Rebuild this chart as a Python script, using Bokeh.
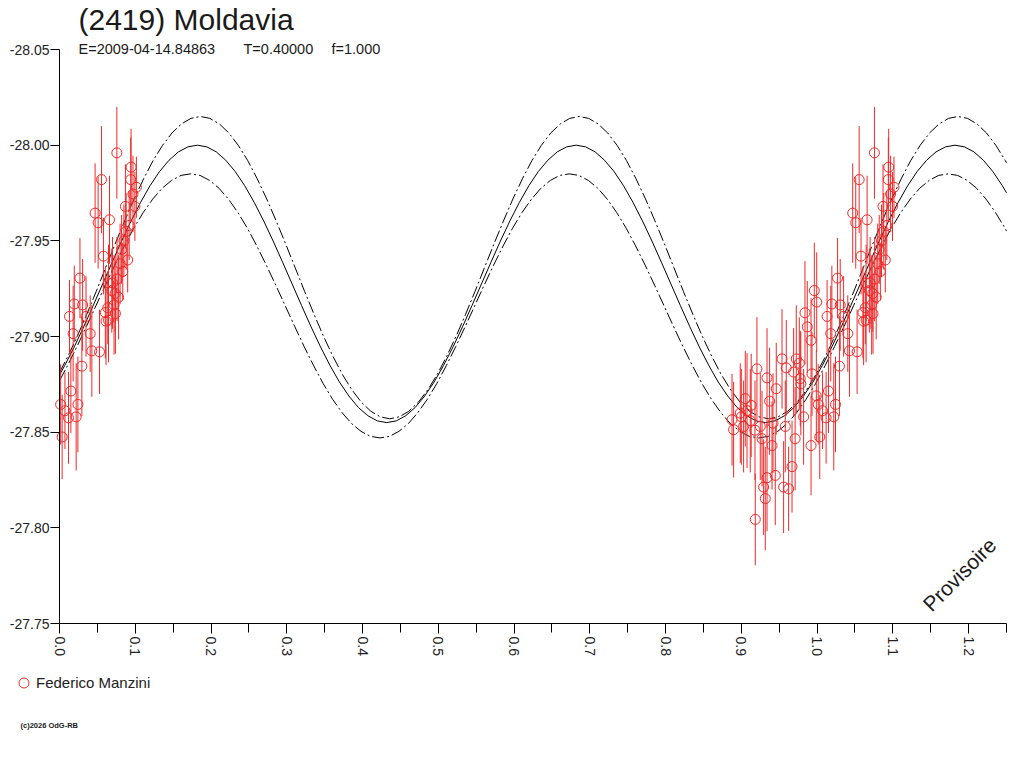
import math
from bokeh.plotting import figure
from bokeh.models import Range1d, FixedTicker, PrintfTickFormatter, Label, Legend, LegendItem
from bokeh.embed import file_html
from bokeh.resources import INLINE

FONT = "Liberation Sans"
RED = "#ee2a2a"

# ---------------- data ----------------
title_text = "(2419) Moldavia"
epoch_text = "E=2009-04-14.84863"
period_text = "T=0.40000"
f_text = "f=1.000"
observer = "Federico Manzini"
copyright_text = "(c)2026 OdG-RB"
stamp_text = "Provisoire"

x_ticks = [0.0, 0.1, 0.2, 0.3, 0.4, 0.5, 0.6, 0.7, 0.8, 0.9, 1.0, 1.1, 1.2]
x_minor = [0.05, 0.15, 0.25, 0.35, 0.45, 0.55, 0.65, 0.75, 0.85, 0.95, 1.05, 1.15, 1.25]
y_ticks = [-28.05, -28.00, -27.95, -27.90, -27.85, -27.80, -27.75]

# observations: phase, reduced magnitude, error
phase = [
    0.0757, 0.0555, 0.0945, 0.0940, 0.1015, 0.0970, 0.0995, 0.0870, 0.0470, 0.0510,
    0.0660, 0.0580, 0.0820, 0.0900, 0.0270, 0.0835, 0.0735, 0.0780, 0.0195, 0.0305,
    0.0132, 0.0350, 0.0180, 0.0605, 0.0720, 0.0647, 0.0405, 0.0427, 0.0528, 0.0295,
    0.0150, 0.0015, 0.0243, 0.0072, 0.0119, 0.0220, 0.0035, 0.0738, 0.0614, 0.0637,
    0.0850, 0.0800, 0.0700, 0.0880, 0.0920, 0.0760, 0.0647, 0.0690,
    0.9537, 0.9725, 0.9765, 0.9593, 0.9206, 0.9690, 0.9933, 0.9339, 0.9778, 0.9785,
    0.9461, 0.9052, 0.9373, 0.9990, 0.8986, 0.9075, 0.9118, 0.9822, 0.8877, 0.8898,
    0.9250, 0.9418, 0.9580, 0.9273, 0.9710, 0.9405, 0.9920, 0.9669, 0.9448, 0.9339,
    0.9294, 0.9558, 0.9624, 0.9316, 0.9184, 0.9963, 0.9995, 0.9840, 0.9920, 0.9870,
    0.9000, 0.9130, 0.9180, 0.9030,
]
mag = [
    -27.9960, -27.9820, -27.9885, -27.9820, -27.9780, -27.9745, -27.9680, -27.9680, -27.9645, -27.9595,
    -27.9610, -27.9420, -27.9455, -27.9400, -27.9305, -27.9340, -27.9225, -27.9205, -27.9170, -27.9165,
    -27.9105, -27.9105, -27.9015, -27.9125, -27.9165, -27.9085, -27.9015, -27.8925, -27.8920, -27.8845,
    -27.8715, -27.8645, -27.8645, -27.8612, -27.8575, -27.8580, -27.8475, -27.9120, -27.9080, -27.9150,
    -27.9500, -27.9380, -27.9280, -27.9550, -27.9580, -27.9300, -27.9280, -27.9240,
    -27.8883, -27.8883, -27.8860, -27.8836, -27.8831, -27.8814, -27.8805, -27.8784, -27.8780, -27.8753,
    -27.8727, -27.8675, -27.8662, -27.8690, -27.8600, -27.8613, -27.8560, -27.8580, -27.8565, -27.8513,
    -27.8530, -27.8547, -27.8530, -27.8466, -27.8466, -27.8430, -27.8430, -27.8320, -27.8274, -27.8262,
    -27.8213, -27.8213, -27.8204, -27.8153, -27.8044, -27.9240, -27.9180, -27.9124, -27.8980, -27.9050,
    -27.8580, -27.8640, -27.8510, -27.8530,
]
err = [
    0.024, 0.028, 0.020, 0.022, 0.016, 0.020, 0.018, 0.022, 0.026, 0.024,
    0.023, 0.020, 0.018, 0.017, 0.021, 0.015, 0.020, 0.022, 0.020, 0.024,
    0.019, 0.021, 0.025, 0.024, 0.026, 0.022, 0.020, 0.024, 0.022, 0.026,
    0.022, 0.021, 0.025, 0.020, 0.024, 0.028, 0.022, 0.021, 0.023, 0.019,
    0.019, 0.021, 0.024, 0.020, 0.018, 0.022, 0.020, 0.022,
    0.026, 0.028, 0.024, 0.025, 0.027, 0.023, 0.022, 0.026, 0.025, 0.027,
    0.024, 0.025, 0.028, 0.024, 0.026, 0.030, 0.027, 0.025, 0.024, 0.025,
    0.028, 0.026, 0.024, 0.025, 0.027, 0.023, 0.026, 0.024, 0.026, 0.028,
    0.025, 0.024, 0.022, 0.027, 0.024, 0.025, 0.026, 0.027, 0.022, 0.024,
    0.025, 0.027, 0.026, 0.024,
]

# fitted light curve (solid) and its uncertainty envelopes (dash-dot)
fit_x = [
    0.0000, 0.0070, 0.0195, 0.0320, 0.0445, 0.0570, 0.0695, 0.0820, 0.0945, 0.1070,
    0.1195, 0.1320, 0.1445, 0.1570, 0.1695, 0.1820, 0.1945, 0.2070, 0.2195, 0.2320,
    0.2445, 0.2570, 0.2695, 0.2820, 0.2945, 0.3070, 0.3195, 0.3320, 0.3445, 0.3570,
    0.3695, 0.3820, 0.3945, 0.4070, 0.4195, 0.4320, 0.4445, 0.4570, 0.4695, 0.4820,
    0.4945, 0.5070, 0.5195, 0.5320, 0.5445, 0.5570, 0.5695, 0.5820, 0.5945, 0.6070,
    0.6195, 0.6320, 0.6445, 0.6570, 0.6695, 0.6820, 0.6945, 0.7070, 0.7195, 0.7320,
    0.7445, 0.7570, 0.7695, 0.7820, 0.7945, 0.8070, 0.8195, 0.8320, 0.8445, 0.8570,
    0.8695, 0.8820, 0.8945, 0.9070, 0.9195, 0.9320, 0.9445, 0.9570, 0.9695, 0.9820,
    0.9945, 1.0070, 1.0195, 1.0320, 1.0445, 1.0570, 1.0695, 1.0820, 1.0945, 1.1070,
    1.1195, 1.1320, 1.1445, 1.1570, 1.1695, 1.1820, 1.1945, 1.2070, 1.2195, 1.2320,
    1.2445, 1.2500,
]
fit_y = [
    -27.8798, -27.8849, -27.8946, -27.9051, -27.9162, -27.9275, -27.9388, -27.9499, -27.9604, -27.9701,
    -27.9788, -27.9862, -27.9921, -27.9965, -27.9991, -28.0000, -27.9991, -27.9965, -27.9921, -27.9862,
    -27.9788, -27.9701, -27.9604, -27.9499, -27.9388, -27.9275, -27.9162, -27.9051, -27.8946, -27.8849,
    -27.8762, -27.8689, -27.8629, -27.8586, -27.8559, -27.8550, -27.8559, -27.8586, -27.8629, -27.8689,
    -27.8762, -27.8849, -27.8946, -27.9051, -27.9162, -27.9275, -27.9388, -27.9499, -27.9604, -27.9701,
    -27.9788, -27.9862, -27.9921, -27.9965, -27.9991, -28.0000, -27.9991, -27.9965, -27.9921, -27.9862,
    -27.9788, -27.9701, -27.9604, -27.9499, -27.9388, -27.9275, -27.9162, -27.9051, -27.8946, -27.8849,
    -27.8762, -27.8689, -27.8629, -27.8586, -27.8559, -27.8550, -27.8559, -27.8586, -27.8629, -27.8689,
    -27.8762, -27.8849, -27.8946, -27.9051, -27.9162, -27.9275, -27.9388, -27.9499, -27.9604, -27.9701,
    -27.9788, -27.9862, -27.9921, -27.9965, -27.9991, -28.0000, -27.9991, -27.9965, -27.9921, -27.9862,
    -27.9788, -27.9751,
]
upper_x = [
    0.0000, 0.0110, 0.0235, 0.0360, 0.0485, 0.0610, 0.0735, 0.0860, 0.0985, 0.1110,
    0.1235, 0.1360, 0.1485, 0.1610, 0.1735, 0.1860, 0.1985, 0.2110, 0.2235, 0.2360,
    0.2485, 0.2610, 0.2735, 0.2860, 0.2985, 0.3110, 0.3235, 0.3360, 0.3485, 0.3610,
    0.3735, 0.3860, 0.3985, 0.4110, 0.4235, 0.4360, 0.4485, 0.4610, 0.4735, 0.4860,
    0.4985, 0.5110, 0.5235, 0.5360, 0.5485, 0.5610, 0.5735, 0.5860, 0.5985, 0.6110,
    0.6235, 0.6360, 0.6485, 0.6610, 0.6735, 0.6860, 0.6985, 0.7110, 0.7235, 0.7360,
    0.7485, 0.7610, 0.7735, 0.7860, 0.7985, 0.8110, 0.8235, 0.8360, 0.8485, 0.8610,
    0.8735, 0.8860, 0.8985, 0.9110, 0.9235, 0.9360, 0.9485, 0.9610, 0.9735, 0.9860,
    0.9985, 1.0110, 1.0235, 1.0360, 1.0485, 1.0610, 1.0735, 1.0860, 1.0985, 1.1110,
    1.1235, 1.1360, 1.1485, 1.1610, 1.1735, 1.1860, 1.1985, 1.2110, 1.2235, 1.2360,
    1.2485, 1.2500,
]
upper_y = [
    -27.8812, -27.8896, -27.9001, -27.9116, -27.9236, -27.9360, -27.9484, -27.9604, -27.9719, -27.9824,
    -27.9919, -27.9999, -28.0064, -28.0111, -28.0140, -28.0150, -28.0140, -28.0111, -28.0064, -27.9999,
    -27.9919, -27.9824, -27.9719, -27.9604, -27.9484, -27.9360, -27.9236, -27.9116, -27.9001, -27.8896,
    -27.8801, -27.8721, -27.8656, -27.8609, -27.8580, -27.8570, -27.8580, -27.8609, -27.8656, -27.8721,
    -27.8801, -27.8896, -27.9001, -27.9116, -27.9236, -27.9360, -27.9484, -27.9604, -27.9719, -27.9824,
    -27.9919, -27.9999, -28.0064, -28.0111, -28.0140, -28.0150, -28.0140, -28.0111, -28.0064, -27.9999,
    -27.9919, -27.9824, -27.9719, -27.9604, -27.9484, -27.9360, -27.9236, -27.9116, -27.9001, -27.8896,
    -27.8801, -27.8721, -27.8656, -27.8609, -27.8580, -27.8570, -27.8580, -27.8609, -27.8656, -27.8721,
    -27.8801, -27.8896, -27.9001, -27.9116, -27.9236, -27.9360, -27.9484, -27.9604, -27.9719, -27.9824,
    -27.9919, -27.9999, -28.0064, -28.0111, -28.0140, -28.0150, -28.0140, -28.0111, -28.0064, -27.9999,
    -27.9919, -27.9908,
]
lower_x = [
    0.0000, 0.0105, 0.0230, 0.0355, 0.0480, 0.0605, 0.0730, 0.0855, 0.0980,
    0.1105, 0.1230, 0.1355, 0.1480, 0.1605, 0.1730, 0.1855, 0.1980, 0.2105, 0.2230,
    0.2355, 0.2480, 0.2605, 0.2730, 0.2855, 0.2980, 0.3105, 0.3230, 0.3355, 0.3480,
    0.3605, 0.3730, 0.3855, 0.3980, 0.4105, 0.4230, 0.4355, 0.4480, 0.4605, 0.4730,
    0.4855, 0.4980, 0.5105, 0.5230, 0.5355, 0.5480, 0.5605, 0.5730, 0.5855, 0.5980,
    0.6105, 0.6230, 0.6355, 0.6480, 0.6605, 0.6730, 0.6855, 0.6980, 0.7105, 0.7230,
    0.7355, 0.7480, 0.7605, 0.7730, 0.7855, 0.7980, 0.8105, 0.8230, 0.8355, 0.8480,
    0.8605, 0.8730, 0.8855, 0.8980, 0.9105, 0.9230, 0.9355, 0.9480, 0.9605, 0.9730,
    0.9855, 0.9980, 1.0105, 1.0230, 1.0355, 1.0480, 1.0605, 1.0730, 1.0855, 1.0980,
    1.1105, 1.1230, 1.1355, 1.1480, 1.1605, 1.1730, 1.1855, 1.1980, 1.2105, 1.2230,
    1.2355, 1.2480, 1.2500,
]
lower_y = [
    -27.8769, -27.8847, -27.8947, -27.9052, -27.9160, -27.9268, -27.9373, -27.9473, -27.9566,
    -27.9648, -27.9718, -27.9775, -27.9816, -27.9842, -27.9850, -27.9842, -27.9816, -27.9775, -27.9718,
    -27.9648, -27.9566, -27.9473, -27.9373, -27.9268, -27.9160, -27.9052, -27.8947, -27.8847, -27.8754,
    -27.8672, -27.8602, -27.8545, -27.8504, -27.8478, -27.8470, -27.8478, -27.8504, -27.8545, -27.8602,
    -27.8672, -27.8754, -27.8847, -27.8947, -27.9052, -27.9160, -27.9268, -27.9373, -27.9473, -27.9566,
    -27.9648, -27.9718, -27.9775, -27.9816, -27.9842, -27.9850, -27.9842, -27.9816, -27.9775, -27.9718,
    -27.9648, -27.9566, -27.9473, -27.9373, -27.9268, -27.9160, -27.9052, -27.8947, -27.8847, -27.8754,
    -27.8672, -27.8602, -27.8545, -27.8504, -27.8478, -27.8470, -27.8478, -27.8504, -27.8545, -27.8602,
    -27.8672, -27.8754, -27.8847, -27.8947, -27.9052, -27.9160, -27.9268, -27.9373, -27.9473, -27.9566,
    -27.9648, -27.9718, -27.9775, -27.9816, -27.9842, -27.9850, -27.9842, -27.9816, -27.9775, -27.9718,
    -27.9648, -27.9566, -27.9551,
]

X_MIN, X_MAX = 0.0, 1.25
Y_FAINT, Y_BRIGHT = -27.75, -28.05

# each observation is shown at its phase and, where it fits, one cycle later
px, pm, pe = [], [], []
for ph, m, e in zip(phase, mag, err):
    for shift in (0.0, 1.0):
        if ph + shift <= X_MAX:
            px.append(ph + shift)
            pm.append(m)
            pe.append(e)

# ---------------- figure ----------------
W, H = 1008, 752
AX_LEFT, AX_RIGHT, AX_TOP, AX_BOTTOM = 59, 1006, 49, 623   # where the axes sit on the canvas
xs = (X_MAX - X_MIN) / (AX_RIGHT - AX_LEFT)
ys = (Y_FAINT - Y_BRIGHT) / (AX_BOTTOM - AX_TOP)
x_range = Range1d(X_MIN - AX_LEFT * xs, X_MAX + (W - AX_RIGHT) * xs)
y_range = Range1d(Y_FAINT + (H - AX_BOTTOM) * ys, Y_BRIGHT - AX_TOP * ys)

p = figure(width=W, height=H, output_backend="svg", toolbar_location=None,
           x_range=x_range, y_range=y_range,
           min_border_left=0, min_border_right=0, min_border_top=0, min_border_bottom=0)
p.min_border = 0
p.outline_line_color = None
p.grid.visible = False
p.background_fill_color = "white"
p.border_fill_color = "white"

xa = p.xaxis[0]
xa.fixed_location = Y_FAINT
xa.bounds = (X_MIN, X_MAX)
xa.ticker = FixedTicker(ticks=x_ticks, minor_ticks=x_minor)
xa.formatter = PrintfTickFormatter(format="%.1f")
xa.major_label_orientation = -math.pi / 2
xa.major_tick_out = 10
xa.major_tick_in = 0
xa.minor_tick_out = 9
xa.minor_tick_in = 0
xa.major_label_standoff = 3
xa.major_label_text_font = FONT
xa.major_label_text_font_size = "14px"
xa.major_label_text_color = "#222222"
xa.major_label_text_align = "left"
xa.major_label_text_baseline = "bottom"
xa.axis_line_color = "black"

ya = p.yaxis[0]
ya.fixed_location = X_MIN
ya.bounds = (Y_BRIGHT, Y_FAINT)
ya.ticker = FixedTicker(ticks=y_ticks, minor_ticks=[])
ya.formatter = PrintfTickFormatter(format="%.2f")
ya.major_tick_out = 9
ya.major_tick_in = 0
ya.minor_tick_out = 0
ya.minor_tick_in = 0
ya.major_label_standoff = 1
ya.major_label_text_font = FONT
ya.major_label_text_font_size = "14px"
ya.major_label_text_color = "#222222"
ya.major_label_text_align = "right"
ya.major_label_text_baseline = "bottom"
ya.axis_line_color = "black"

# curves
p.line(upper_x, upper_y, line_color="black", line_width=1, line_dash="12 3 2 3")
p.line(lower_x, lower_y, line_color="black", line_width=1, line_dash="12 3 2 3")
p.line(fit_x, fit_y, line_color="black", line_width=1)

# error bars and points
lo = [m - e for m, e in zip(pm, pe)]
hi = [m + e for m, e in zip(pm, pe)]
p.segment(x0=px, y0=lo, x1=px, y1=hi, line_color=RED, line_width=1)
pts = p.scatter(px, pm, marker="circle", size=10, line_color=RED, line_width=1, fill_color=None)

# legend (screen offsets from the canvas' bottom-left corner)
legend = Legend(items=[LegendItem(label=observer, renderers=[pts])],
                location=(11, 57), glyph_width=25, glyph_height=25,
                label_standoff=0, padding=0, margin=0, spacing=0,
                border_line_color=None, background_fill_alpha=0,
                label_text_font=FONT, label_text_font_size="15px",
                label_text_color="#222222")
p.add_layout(legend, "center")

def add_label(text, x, y_from_top, size, **kw):
    p.add_layout(Label(x=x, y=H - y_from_top, x_units="screen", y_units="screen", text=text,
                       text_font=FONT, text_font_size=size, text_color="#1a1a1a",
                       text_baseline="middle", **kw))

add_label(title_text, 78, 19, "30px")
add_label(epoch_text, 78, 48, "14.5px")
add_label(period_text, 243, 48, "14.5px")
add_label(f_text, 331, 48, "14.5px")
add_label(copyright_text, 20, 725, "7.5px", text_font_style="bold")
add_label(stamp_text, 926, 607, "21px", angle=45, angle_units="deg")

open("out.html", "w").write(file_html(p, INLINE))
